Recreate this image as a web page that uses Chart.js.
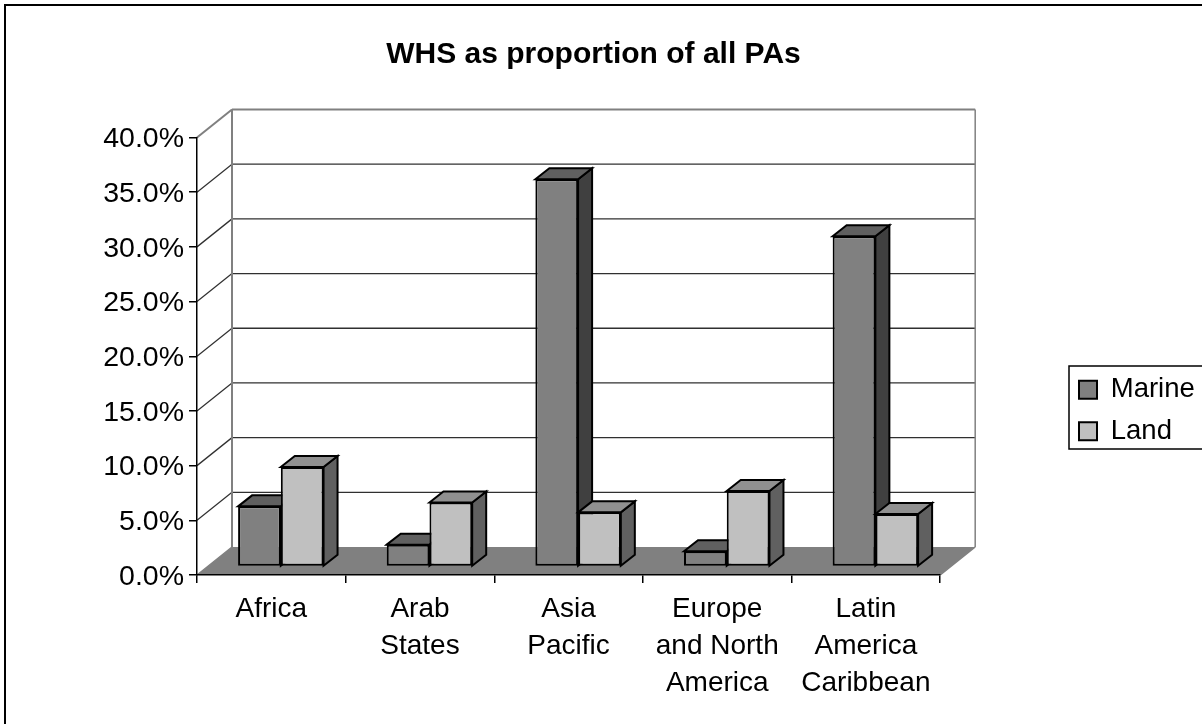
<!DOCTYPE html>
<html>
<head>
<meta charset="utf-8">
<title>WHS as proportion of all PAs</title>
<script src="https://cdn.jsdelivr.net/npm/chart.js@4/dist/chart.umd.min.js"></script>
<style>
  html, body { margin: 0; padding: 0; background: #fff; overflow: hidden; }
  canvas { display: block; }
</style>
</head>
<body>
<canvas id="whsChart" width="1202" height="724"></canvas>
<script>
const categories = ['Africa', ['Arab', 'States'], ['Asia', 'Pacific'], ['Europe', 'and North', 'America'], ['Latin', 'America', 'Caribbean']];
const marine = [5.5, 2.0, 35.4, 1.4, 30.2];
const land = [9.1, 5.85, 4.95, 6.9, 4.8];

// depth of the floor and of the bars, in pixels
const floorDepth = { x: 35, y: -28 };
const barDepth = { x: 14, y: -11 };
const barShift = { x: 9.5, y: -8.5 };
const faces = [
  { top: '#606060', side: '#404040' },
  { top: '#909090', side: '#606060' }
];

function line(ctx, x1, y1, x2, y2) {
  ctx.beginPath();
  ctx.moveTo(x1, y1);
  ctx.lineTo(x2, y2);
  ctx.stroke();
}

function poly(ctx, pts, fill) {
  ctx.beginPath();
  pts.forEach((p, i) => (i ? ctx.lineTo(p[0], p[1]) : ctx.moveTo(p[0], p[1])));
  ctx.closePath();
  ctx.fillStyle = fill;
  ctx.fill();
  ctx.stroke();
}

const box3d = {
  id: 'box3d',
  afterLayout(chart) {
    // the legend sits further right than the layout would put it
    const legend = chart.legend;
    legend.left = 1065;
    legend.right = 1202;
    legend.top = 362;
    legend.bottom = 724;
    legend.adjustHitBoxes();
    chart.titleBlock.left = 0;
    chart.titleBlock.right = 1187;
  },
  beforeDraw(chart) {
    const { ctx, chartArea: area, scales: { y } } = chart;
    const dx = floorDepth.x, dy = floorDepth.y;
    ctx.save();
    ctx.fillStyle = '#fff';
    ctx.fillRect(0, 0, chart.width, chart.height);

    // outer frame and legend frame
    ctx.strokeStyle = '#000';
    ctx.lineWidth = 2;
    ctx.strokeRect(5, 5, 1220, 740);
    ctx.lineWidth = 1.5;
    ctx.strokeRect(1069, 366, 150, 83);

    // floor
    ctx.fillStyle = '#808080';
    ctx.beginPath();
    ctx.moveTo(area.left, area.bottom);
    ctx.lineTo(area.left + dx, area.bottom + dy);
    ctx.lineTo(area.right + dx, area.bottom + dy);
    ctx.lineTo(area.right, area.bottom);
    ctx.closePath();
    ctx.fill();

    // side wall and back wall lines
    y.ticks.forEach(t => {
      if (t.value === 0) return;
      const py = y.getPixelForValue(t.value);
      const isTop = t.value === y.max;
      ctx.strokeStyle = isTop ? '#808080' : '#303030';
      ctx.lineWidth = isTop ? 2 : 1.3;
      line(ctx, area.left, py, area.left + dx, py + dy);
      line(ctx, area.left + dx, py + dy, area.right + dx, py + dy);
    });
    ctx.strokeStyle = '#808080';
    ctx.lineWidth = 2;
    line(ctx, area.left + dx, area.top + dy, area.left + dx, area.bottom + dy);
    ctx.lineWidth = 1.5;
    line(ctx, area.right + dx, area.top + dy, area.right + dx, area.bottom + dy);
    line(ctx, area.left, area.bottom, area.left + dx, area.bottom + dy);
    line(ctx, area.right, area.bottom, area.right + dx, area.bottom + dy);
    ctx.restore();
  },
  beforeDatasetsDraw(chart) {
    // Marine has to go first so Land covers its side face
    const ctx = chart.ctx;
    const dx = barDepth.x, dy = barDepth.y;
    ctx.save();
    ctx.translate(barShift.x, barShift.y);
    chart.data.datasets.forEach((ds, di) => {
      chart.getDatasetMeta(di).data.forEach(bar => {
        const l = bar.x - bar.width / 2, r = bar.x + bar.width / 2;
        ctx.strokeStyle = '#000';
        ctx.lineWidth = 2;
        ctx.lineJoin = 'miter';
        poly(ctx, [[r, bar.y], [r + dx, bar.y + dy], [r + dx, bar.base + dy], [r, bar.base]], faces[di].side);
        poly(ctx, [[l, bar.y], [l + dx, bar.y + dy], [r + dx, bar.y + dy], [r, bar.y]], faces[di].top);
        bar.draw(ctx);
      });
    });
    ctx.restore();
    return false;
  }
};

const font = { family: '"Liberation Sans", Arial, sans-serif', size: 28 };

new Chart(document.getElementById('whsChart'), {
  type: 'bar',
  data: {
    labels: categories,
    datasets: [
      { label: 'Marine', data: marine, backgroundColor: '#808080' },
      { label: 'Land', data: land, backgroundColor: '#C0C0C0' }
    ]
  },
  plugins: [box3d],
  options: {
    responsive: false,
    animation: false,
    devicePixelRatio: 1,
    layout: { padding: { left: 0, right: 122, top: 0, bottom: 0 } },
    datasets: {
      bar: {
        categoryPercentage: 0.575,
        barPercentage: 1,
        borderColor: '#000',
        borderWidth: 2,
        borderSkipped: false
      }
    },
    scales: {
      x: {
        afterFit(scale) { scale.height = 149; },
        grid: { drawOnChartArea: false, color: '#000', tickLength: 8, lineWidth: 1.5 },
        border: { color: '#000', width: 1.5 },
        ticks: { color: '#000', font: { ...font, lineHeight: 1.32 }, padding: 7.5, maxRotation: 0, autoSkip: false }
      },
      y: {
        min: 0,
        max: 40,
        afterFit(scale) { scale.width = 197; },
        grid: { drawOnChartArea: false, color: '#000', tickLength: 8, lineWidth: 1.5 },
        border: { color: '#000', width: 1.5 },
        ticks: {
          color: '#000',
          font: { ...font, size: 28.5 },
          padding: 5,
          stepSize: 5,
          labelOffset: 2,
          callback: v => v.toFixed(1) + '%'
        }
      }
    },
    plugins: {
      title: {
        display: true,
        text: 'WHS as proportion of all PAs',
        color: '#000',
        font: { ...font, size: 30, weight: 'bold' },
        padding: { top: 37, bottom: 64.5 }
      },
      legend: {
        position: 'right',
        align: 'start',
        labels: {
          color: '#000',
          font: { ...font, size: 27.5 },
          boxWidth: 18,
          boxHeight: 18,
          padding: 14
        }
      },
      tooltip: { enabled: false }
    }
  }
});
</script>
</body>
</html>
